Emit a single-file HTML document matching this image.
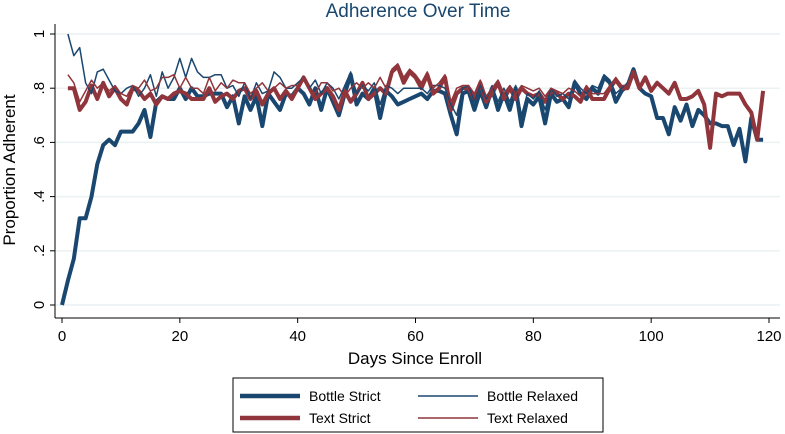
<!DOCTYPE html>
<html><head><meta charset="utf-8"><style>
body{margin:0;background:#fff;}
svg{display:block;font-family:"Liberation Sans",sans-serif;}
</style></head><body>
<svg id="chart" width="785" height="434" viewBox="0 0 785 434">
<text x="418" y="17" text-anchor="middle" font-size="19" fill="#1a476f">Adherence Over Time</text>
<g id="grid"></g>
<g id="lines"></g>
<line x1="55" y1="24" x2="55" y2="318" stroke="#000" stroke-width="1"/>
<line x1="55" y1="318" x2="780" y2="318" stroke="#000" stroke-width="1"/>
<g id="ticks"></g>
<text transform="translate(15,170) rotate(-90)" text-anchor="middle" font-size="17" fill="#000">Proportion Adherent</text>
<text x="415" y="364" text-anchor="middle" font-size="17" fill="#000">Days Since Enroll</text>
<g>
<rect x="233" y="378" width="370" height="54" fill="#fff" stroke="#000" stroke-width="1"/>
<line x1="240" y1="396" x2="300" y2="396" stroke="#1a476f" stroke-width="4.5"/>
<text x="309" y="401" font-size="14">Bottle Strict</text>
<line x1="418" y1="396" x2="478" y2="396" stroke="#1a476f" stroke-width="1.6"/>
<text x="487" y="401" font-size="14">Bottle Relaxed</text>
<line x1="240" y1="418" x2="300" y2="418" stroke="#90353b" stroke-width="4.5"/>
<text x="309" y="423" font-size="14">Text Strict</text>
<line x1="418" y1="418" x2="478" y2="418" stroke="#90353b" stroke-width="1.6"/>
<text x="487" y="423" font-size="14">Text Relaxed</text>
</g>
</svg>
<script>
const yTicks=[0,0.2,0.4,0.6,0.8,1];
const yTickLabels=["0",".2",".4",".6",".8","1"];
const xTicks=[0,20,40,60,80,100,120];
const bottleStrict=[0,.09,.17,.32,.32,.40,.52,.59,.61,.59,.64,.64,.64,.67,.72,.62,.75,.77,.76,.76,.80,.76,.80,.77,.77,.78,.78,.78,.73,.77,.67,.77,.72,.77,.66,.78,.75,.72,.78,.77,.80,.78,.74,.80,.72,.80,.75,.70,.78,.85,.74,.78,.76,.80,.69,.79,.77,.74,.75,.76,.77,.78,.76,.79,.79,.78,.70,.63,.78,.79,.72,.79,.73,.80,.72,.78,.72,.80,.66,.76,.74,.77,.67,.78,.75,.76,.73,.82,.78,.76,.80,.78,.84,.82,.75,.79,.81,.87,.80,.78,.77,.69,.69,.63,.73,.68,.74,.66,.72,.70,.67,.67,.66,.66,.59,.65,.53,.69,.61,.61];
const textStrict=[null,.80,.80,.72,.75,.81,.76,.82,.77,.80,.76,.74,.80,.79,.76,.78,.74,.77,.76,.78,.79,.78,.76,.76,.76,.80,.75,.77,.78,.76,.79,.80,.76,.79,.74,.78,.80,.76,.79,.76,.80,.84,.80,.76,.78,.80,.77,.72,.79,.75,.78,.82,.76,.78,.80,.78,.86,.88,.82,.86,.84,.80,.85,.78,.80,.84,.72,.78,.80,.80,.76,.82,.75,.78,.82,.76,.80,.76,.80,.78,.77,.78,.75,.79,.78,.76,.78,.77,.75,.80,.76,.76,.76,.80,.83,.80,.80,.86,.80,.84,.79,.82,.80,.78,.82,.76,.76,.77,.79,.74,.58,.78,.77,.78,.78,.78,.74,.71,.61,.79];
const bottleRelaxed=[null,1.0,.92,.95,.82,.78,.86,.87,.83,.79,.78,.80,.81,.77,.80,.85,.77,.86,.80,.84,.91,.84,.91,.86,.84,.84,.85,.85,.80,.81,.77,.82,.76,.82,.78,.79,.86,.84,.80,.80,.82,.84,.80,.83,.78,.82,.80,.76,.81,.86,.78,.81,.79,.82,.74,.81,.80,.78,.80,.80,.80,.80,.78,.81,.81,.80,.74,.70,.80,.81,.75,.81,.76,.81,.75,.80,.75,.81,.70,.78,.76,.79,.72,.80,.77,.78,.76,.83,.80,.78,.81,.80,.85,.83,.78,.80,.82];
const textRelaxed=[null,.85,.82,.75,.79,.83,.80,.82,.79,.81,.78,.77,.81,.80,.83,.79,.80,.84,.84,.85,.80,.84,.80,.80,.78,.84,.79,.82,.80,.83,.82,.82,.78,.80,.82,.79,.80,.82,.80,.81,.81,.84,.80,.78,.82,.82,.79,.80,.77,.80,.82,.80,.82,.80,.84,.80,.87,.89,.84,.87,.85,.82,.86,.80,.82,.85,.75,.80,.81,.81,.78,.83,.77,.80,.83,.78,.81,.78,.81,.80,.79,.80,.77,.80,.79,.78,.80,.79,.77,.81,.78,.78,.78,.81,.84,.81,.81];
const X0=62,X1=769,Y0=305,Y1=34;
function xs(d){return X0+(X1-X0)*d/120;}
function ys(v){return Y0+(Y1-Y0)*v;}
const NS="http://www.w3.org/2000/svg";
const grid=document.getElementById('grid'),ticks=document.getElementById('ticks'),lines=document.getElementById('lines');
yTicks.forEach((v,i)=>{
 const g=document.createElementNS(NS,'line');
 
 
 g.setAttribute('x1',56);g.setAttribute('x2',780);g.setAttribute('y1',ys(v));g.setAttribute('y2',ys(v));
 g.setAttribute('stroke','#eaf2f3');g.setAttribute('stroke-width','1.5');grid.appendChild(g);
 const t=document.createElementNS(NS,'line');
 
 
 t.setAttribute('x1',50);t.setAttribute('x2',55);t.setAttribute('y1',ys(v));t.setAttribute('y2',ys(v));t.setAttribute('stroke','#000');ticks.appendChild(t);
 const l=document.createElementNS(NS,'text');
 
 
 l.setAttribute('transform','translate(44,'+ys(v)+') rotate(-90)');l.setAttribute('text-anchor','middle');l.setAttribute('font-size','15');
 l.textContent=yTickLabels[i];ticks.appendChild(l);
});
xTicks.forEach(v=>{
 const t=document.createElementNS(NS,'line');
 
 
 t.setAttribute('x1',xs(v));t.setAttribute('x2',xs(v));t.setAttribute('y1',318);t.setAttribute('y2',323);t.setAttribute('stroke','#000');ticks.appendChild(t);
 const l=document.createElementNS(NS,'text');
 
 
 l.setAttribute('x',xs(v));l.setAttribute('y',341);l.setAttribute('text-anchor','middle');l.setAttribute('font-size','15');
 l.textContent=v;ticks.appendChild(l);
});
function draw(arr,color,w,name){
 const pts=[];arr.forEach((v,i)=>{if(v!==null)pts.push(xs(i).toFixed(1)+','+ys(v).toFixed(1));});
 const p=document.createElementNS(NS,'polyline');
 
 
 p.setAttribute('points',pts.join(' '));p.setAttribute('fill','none');p.setAttribute('stroke',color);
 p.setAttribute('stroke-width',w);p.setAttribute('stroke-linejoin','round');lines.appendChild(p);
}
draw(bottleStrict,'#1a476f',4,'bottle-strict-line');
draw(textStrict,'#90353b',4,'text-strict-line');
draw(bottleRelaxed,'#1a476f',1.5,'bottle-relaxed-line');
draw(textRelaxed,'#90353b',1.5,'text-relaxed-line');
</script>
</body></html>
